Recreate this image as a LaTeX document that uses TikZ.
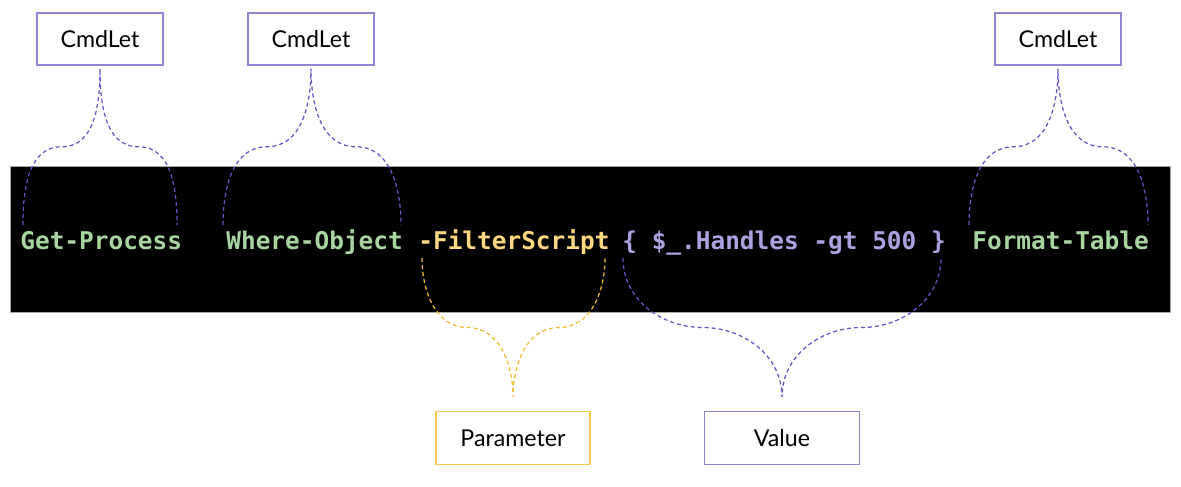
\documentclass[tikz,border=0pt]{standalone}
\usepackage{fontspec}
\setmainfont{Lato}
\newfontfamily\codefont{DejaVu Sans Mono}
\usepackage{tikz}
\usetikzlibrary{calc}
\definecolor{codegreen}{RGB}{168,212,160}
\definecolor{codeyellow}{RGB}{255,216,128}
\definecolor{codepurple}{RGB}{176,160,224}
\definecolor{bracepurple}{RGB}{100,84,196}
\definecolor{braceyellow}{RGB}{238,188,50}
\definecolor{boxpurple}{RGB}{150,130,210}
\definecolor{boxyellow}{RGB}{245,200,80}
\tikzstyle{label} = [draw, fill=white, line width=0.6pt, minimum width=2.52cm, minimum height=1.04cm, font=\fontsize{13.2}{15}\selectfont, text=black]
\tikzstyle{code} = [anchor=base west, inner sep=0pt, font=\codefont\bfseries\fontsize{13.9}{16}\selectfont]
\tikzstyle{brace} = [line width=0.7pt, dash pattern=on 2.3pt off 1.7pt]

\begin{document}
\begin{tikzpicture}[x=0.02cm, y=-0.02cm]
	\useasboundingbox (0,0) rectangle (1181,487);
	% -------------- command line --------------
	\draw[fill=black, draw=gray!70] (10,166) rectangle (1170,312);
	\node[code, text=codegreen]  (gp)  at (20,249)  {Get-Process};
	\node[code, text=codegreen]  (wo)  at (226,249) {Where-Object};
	\node[code, text=codeyellow] (fs)  at (418,249) {-FilterScript};
	\node[code, text=codepurple] (blk) at (622,249) {\{ \$\_.Handles -gt 500 \}};
	\node[code, text=codegreen]  (ft)  at (972,249) {Format-Table};
	% -------------- labels --------------
	\node[label, draw=boxpurple] (cmdA) at (100,39)  {CmdLet};
	\node[label, draw=boxpurple] (cmdB) at (311,39)  {CmdLet};
	\node[label, draw=boxpurple] (cmdC) at (1058,39) {CmdLet};
	\node[label, draw=boxyellow, minimum width=3.08cm, minimum height=1.06cm] (par) at (513,438) {Parameter};
	\node[label, draw=boxpurple, minimum width=3.1cm, minimum height=1.06cm]  (val) at (782,438) {Value};
	% -------------- brace ends --------------
	\coordinate (gpL) at (23,225);   \coordinate (gpR) at (177,225);
	\coordinate (woL) at (223,225);  \coordinate (woR) at (401,225);
	\coordinate (ftL) at (969,225);  \coordinate (ftR) at (1148,225);
	\coordinate (fsL) at (422,258);  \coordinate (fsR) at (605,258);
	\coordinate (blkL) at (623,258); \coordinate (blkR) at (941,258);
	\coordinate (tipA) at ($(cmdA.south)+(0,3)$);
	\coordinate (tipB) at ($(cmdB.south)+(0,3)$);
	\coordinate (tipC) at ($(cmdC.south)+(0,3)$);
	\coordinate (tipP) at ($(par.north)+(0,-14)$);
	\coordinate (tipV) at ($(val.north)+(0,-14)$);
	% -------------- braces --------------
	\draw[brace, bracepurple] (gpL) to[out=90,in=180] ($(gpL)!0.5!(tipA)$) to[out=0,in=-90] (tipA)
		to[out=-90,in=180] ($(gpR)!0.5!(tipA)$) to[out=0,in=90] (gpR);
	\draw[brace, bracepurple] (woL) to[out=90,in=180] ($(woL)!0.5!(tipB)$) to[out=0,in=-90] (tipB)
		to[out=-90,in=180] ($(woR)!0.5!(tipB)$) to[out=0,in=90] (woR);
	\draw[brace, bracepurple] (ftL) to[out=90,in=180] ($(ftL)!0.5!(tipC)$) to[out=0,in=-90] (tipC)
		to[out=-90,in=180] ($(ftR)!0.5!(tipC)$) to[out=0,in=90] (ftR);
	\draw[brace, braceyellow] (fsL) to[out=-90,in=180] ($(fsL)!0.5!(tipP)$) to[out=0,in=90] (tipP)
		to[out=90,in=180] ($(fsR)!0.5!(tipP)$) to[out=0,in=-90] (fsR);
	\draw[brace, bracepurple] (blkL) to[out=-90,in=180] ($(blkL)!0.5!(tipV)$) to[out=0,in=90] (tipV)
		to[out=90,in=180] ($(blkR)!0.5!(tipV)$) to[out=0,in=-90] (blkR);
\end{tikzpicture}
\end{document}
